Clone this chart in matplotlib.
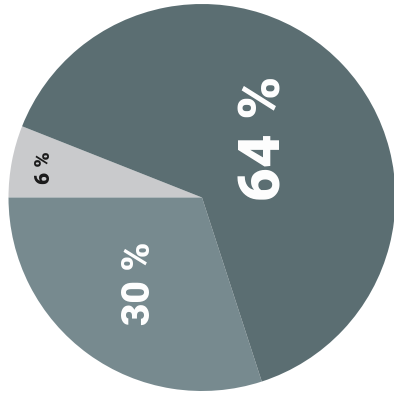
import numpy as np
import matplotlib.pyplot as plt

# shares, drawn counter-clockwise starting from the upper-left edge
labels = ['6 %', '30 %', '64 %']
shares = [6, 30, 64]
colors = ['#c9cacc', '#778a8f', '#5b6e72']
text_colors = ['#1a1a1a', 'white', 'white']
font_sizes = [15, 28, 42]
label_dist = [0.83, 0.55, 0.45]

fig = plt.figure(figsize=(3.94, 4.00), dpi=100)
ax = fig.add_axes([0, 0, 1, 1])

wedges, _ = ax.pie(shares, colors=colors, startangle=158.4,
                   counterclock=True, center=(202, 202.5), radius=193.5,
                   wedgeprops=dict(linewidth=0))

for w, lab, tc, fs, d in zip(wedges, labels, text_colors, font_sizes, label_dist):
    mid = np.deg2rad((w.theta1 + w.theta2) / 2)
    x = w.center[0] + d * w.r * np.cos(mid)
    y = w.center[1] + d * w.r * np.sin(mid)
    ax.text(x, y, lab, rotation=90, ha='center', va='center',
            color=tc, fontsize=fs, fontweight='black', family='Roboto')

ax.set_xlim(0, 394)
ax.set_ylim(0, 400)
ax.set_aspect('equal')
ax.axis('off')

fig.savefig('out.png', dpi=100)
